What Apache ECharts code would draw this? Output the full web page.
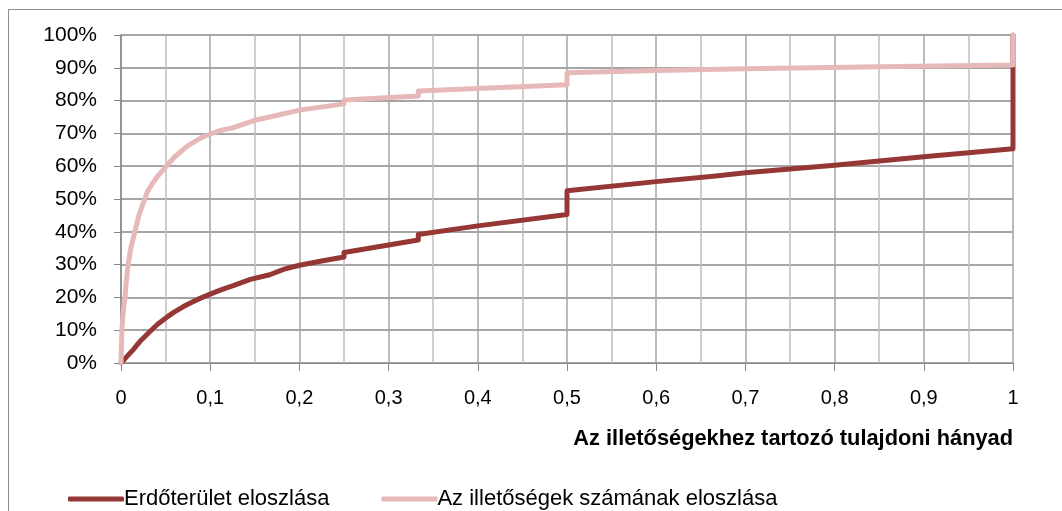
<!DOCTYPE html>
<html>
<head>
<meta charset="utf-8">
<script src="https://cdn.jsdelivr.net/npm/echarts@6/dist/echarts.min.js"></script>
<style>
  html, body { margin: 0; padding: 0; background: #fff; }
  #chart { width: 1062px; height: 511px; }
</style>
</head>
<body>
<div id="chart"></div>
<script>
// Series names
const seriesNames = ['Erdőterület eloszlása', 'Az illetőségek számának eloszlása'];
const xAxisTitle = 'Az illetőségekhez tartozó tulajdoni hányad';

// Erdőterület eloszlása (dark red)
const areaX = [0, 0.007, 0.0135, 0.022, 0.0325, 0.041, 0.051, 0.06, 0.07, 0.08, 0.0886, 0.1, 0.112, 0.125, 0.125, 0.145, 0.1667, 0.1667, 0.183, 0.2, 0.225, 0.25, 0.25, 0.3, 0.3333, 0.3333, 0.4, 0.5, 0.5, 0.6, 0.6667, 0.6667, 0.7, 0.8, 0.9, 1, 1];
const areaY = [0, 2.1, 4.0, 6.8, 9.6, 11.8, 13.9, 15.6, 17.2, 18.6, 19.7, 21.0, 22.3, 23.5, 24.0, 25.5, 26.9, 27.4, 28.6, 29.8, 31.1, 32.3, 33.7, 36.0, 37.5, 39.2, 41.8, 45.3, 52.5, 55.3, 57.0, 57.4, 58.0, 60.3, 62.9, 65.3, 100];

// Az illetőségek számának eloszlása (pink)
const countX = [0, 0.0005, 0.001, 0.002, 0.003, 0.0045, 0.006, 0.008, 0.011, 0.0155, 0.02, 0.025, 0.03, 0.035, 0.04, 0.05, 0.06, 0.075, 0.09, 0.1, 0.11, 0.125, 0.125, 0.15, 0.1667, 0.1667, 0.2, 0.25, 0.25, 0.3333, 0.3333, 0.4, 0.5, 0.5, 0.6, 0.7, 0.85, 1, 1];
const countY = [0, 5, 10, 14, 17, 20, 25, 30, 35, 40, 45, 48.8, 52.5, 54.6, 56.6, 59.8, 62.8, 66.3, 68.7, 69.8, 70.8, 71.7, 72.3, 74, 75, 75.6, 77.1, 79.0, 80.2, 81.4, 82.9, 83.7, 84.8, 88.5, 89.2, 89.7, 90.3, 90.85, 100];

const pairs = (xs, ys) => xs.map((x, i) => [x, ys[i]]);

const FONT = 'Liberation Sans, Arial, sans-serif';
const chart = echarts.init(document.getElementById('chart'), null, { renderer: 'canvas' });

chart.setOption({
  animation: false,
  backgroundColor: '#fff',
  grid: { left: 121, top: 35, right: 49, bottom: 148, containLabel: false },
  title: {
    text: xAxisTitle,
    right: 44,
    top: 423,
    textStyle: { fontFamily: FONT, fontSize: 21.8, fontWeight: 'bold', color: '#000' }
  },
  legend: {
    left: 63,
    top: 483,
    itemWidth: 56,
    itemHeight: 5,
    itemGap: 52,
    icon: 'roundRect',
    textStyle: { fontFamily: FONT, fontSize: 22, color: '#000', padding: [0, 0, 0, -5] },
    data: seriesNames
  },
  graphic: [{
    type: 'rect',
    shape: { x: 8.5, y: 9.5, width: 1100, height: 600 },
    style: { fill: 'none', stroke: '#8c8c8c', lineWidth: 1 },
    silent: true
  }],
  xAxis: {
    type: 'value',
    min: 0,
    max: 1,
    interval: 0.1,
    axisLine: { show: true, lineStyle: { color: '#878787', width: 1 } },
    axisTick: { show: true, length: 8, inside: false, lineStyle: { color: '#878787' } },
    axisLabel: {
      margin: 25,
      fontFamily: FONT,
      fontSize: 20,
      color: '#000',
      formatter: v => String(Math.round(v * 10) / 10).replace('.', ',')
    },
    splitLine: { show: true, lineStyle: { color: '#A4A4A4', width: 1.5 } },
    minorTick: { show: false, splitNumber: 2 },
    minorSplitLine: { show: true, lineStyle: { color: '#BEBEBE', width: 1.5 } }
  },
  yAxis: {
    type: 'value',
    min: 0,
    max: 100,
    interval: 10,
    axisLine: { show: true, lineStyle: { color: '#878787', width: 1.5 } },
    axisTick: { show: true, length: 7, inside: false, lineStyle: { color: '#878787' } },
    axisLabel: {
      margin: 24,
      fontFamily: FONT,
      fontSize: 21,
      color: '#000',
      formatter: '{value}%'
    },
    splitLine: { show: true, lineStyle: { color: '#878787', width: 1.5 } }
  },
  series: [
    {
      name: seriesNames[0],
      type: 'line',
      data: pairs(areaX, areaY),
      showSymbol: false,
      symbol: 'none',
      smooth: false,
      color: '#953735',
      lineStyle: { color: '#953735', width: 5, join: 'round', cap: 'round' },
      z: 2
    },
    {
      name: seriesNames[1],
      type: 'line',
      data: pairs(countX, countY),
      showSymbol: false,
      symbol: 'none',
      smooth: false,
      color: '#E6B9B8',
      lineStyle: { color: '#E6B9B8', width: 5, join: 'round', cap: 'round' },
      z: 3
    }
  ]
});
</script>
</body>
</html>
